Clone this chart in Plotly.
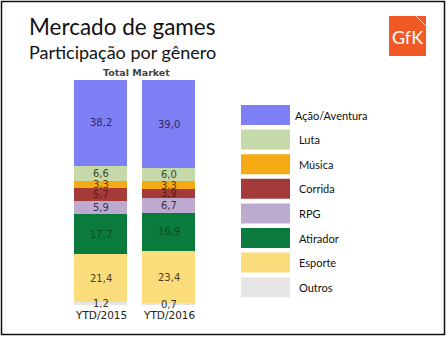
import plotly.graph_objects as go

# Market share by genre (%), listed from top of stack to bottom
genres = ["Ação/Aventura", "Luta", "Música", "Corrida", "RPG", "Atirador", "Esporte", "Outros"]
periods = ["YTD/2015", "YTD/2016"]
share_2015 = [38.2, 6.6, 3.3, 5.7, 5.9, 17.7, 21.4, 1.2]
share_2016 = [39.0, 6.0, 3.3, 3.9, 6.7, 16.9, 23.4, 0.7]
colors = ["#7F7FF5", "#C5D9A9", "#F5A914", "#A53A3A", "#BDAACF", "#0A7A3D", "#FBDE7B", "#E6E6E6"]
label_colors = ["#2B2B66", "#3A4A2A", "#6A3A00", "#5A1A10", "#3A3050", "#0C4A22", "#4A4020", "#333333"]

WIDTH, HEIGHT = 447, 337
L, R, T, B = 66.5, 202.5, 80, 305  # bar area in pixels


def px(x):
    return x / WIDTH


def py(y):
    return 1 - y / HEIGHT


fig = go.Figure()
# stack from the bottom up
for i in reversed(range(len(genres))):
    fig.add_trace(go.Bar(
        x=periods,
        y=[share_2015[i], share_2016[i]],
        name=genres[i],
        marker=dict(color=colors[i], line=dict(width=0)),
        showlegend=False,
    ))

annotations = []
# value labels centred on each segment
for series, period in ((share_2015, periods[0]), (share_2016, periods[1])):
    base = 0.0
    for i in reversed(range(len(genres))):
        v = series[i]
        annotations.append(dict(
            x=period, y=base + v / 2, xref="x", yref="y",
            text=f"{v:.1f}".replace(".", ","), showarrow=False,
            font=dict(family="DejaVu Sans", size=10, color=label_colors[i]),
            yanchor="middle",
        ))
        base += v

# period labels under the bars
for period in periods:
    annotations.append(dict(
        x=period, y=py(314.5), xref="x", yref="paper", text=period,
        showarrow=False, yanchor="middle",
        font=dict(family="DejaVu Sans", size=10.5, color="#222222"),
    ))

# titles
annotations += [
    dict(x=px(27), y=py(27), xref="paper", yref="paper", text="Mercado de games",
         showarrow=False, xanchor="left", yanchor="middle",
         font=dict(family="Lato", size=22.5, color="#111111")),
    dict(x=px(27), y=py(52), xref="paper", yref="paper", text="Participação por gênero",
         showarrow=False, xanchor="left", yanchor="middle",
         font=dict(family="Lato", size=18, color="#111111")),
    dict(x=px(136), y=py(72), xref="paper", yref="paper", text="<b>Total Market</b>",
         showarrow=False, xanchor="center", yanchor="middle",
         font=dict(family="DejaVu Sans", size=9.5, color="#444444")),
    dict(x=px(407.5), y=py(37), xref="paper", yref="paper", text="GfK",
         showarrow=False, xanchor="center", yanchor="middle",
         font=dict(family="Lato", size=18, color="white")),
]

shapes = []
# legend swatches and labels
sw_x0, sw_x1, sw_top, sw_h, sw_step = 241, 290, 105, 20, 24.6
for i, g in enumerate(genres):
    top = sw_top + i * sw_step
    shapes.append(dict(type="rect", xref="paper", yref="paper",
                       x0=px(sw_x0), x1=px(sw_x1), y0=py(top + sw_h), y1=py(top),
                       fillcolor=colors[i], line=dict(width=0), layer="above"))
    annotations.append(dict(x=px(293 if i == 0 else 297), y=py(top + sw_h / 2),
                            xref="paper", yref="paper",
                            text=g, showarrow=False, xanchor="left", yanchor="middle",
                            font=dict(family="Lato", size=11, color="#111111")))

# logo tile
shapes.append(dict(type="rect", xref="paper", yref="paper",
                   x0=px(389), x1=px(426), y0=py(56), y1=py(16),
                   fillcolor="#F15A24", line=dict(width=0), layer="below"))
shapes.append(dict(type="line", xref="paper", yref="paper",
                   x0=px(416), x1=px(426), y0=py(16), y1=py(26),
                   line=dict(color="rgba(255,220,200,0.8)", width=1)))
# outer frame
shapes.append(dict(type="rect", xref="paper", yref="paper",
                   x0=px(1.5), x1=px(444.5), y0=py(334.5), y1=py(1.5),
                   line=dict(color="#111111", width=1.5), fillcolor="rgba(0,0,0,0)"))

fig.update_layout(
    width=WIDTH, height=HEIGHT,
    margin=dict(l=0, r=0, t=0, b=0, pad=0),
    barmode="stack", bargap=0.22,
    paper_bgcolor="white", plot_bgcolor="white",
    xaxis=dict(domain=[L / WIDTH, R / WIDTH],
               showline=False, showgrid=False, zeroline=False, ticks="",
               showticklabels=False,
               range=[-0.5, 1.5], fixedrange=True, automargin=False),
    yaxis=dict(domain=[1 - B / HEIGHT, 1 - T / HEIGHT],
               visible=False, range=[0, 100], fixedrange=True),
    annotations=annotations, shapes=shapes,
    showlegend=False,
)

fig.write_html("out.html", config={"displayModeBar": False})
